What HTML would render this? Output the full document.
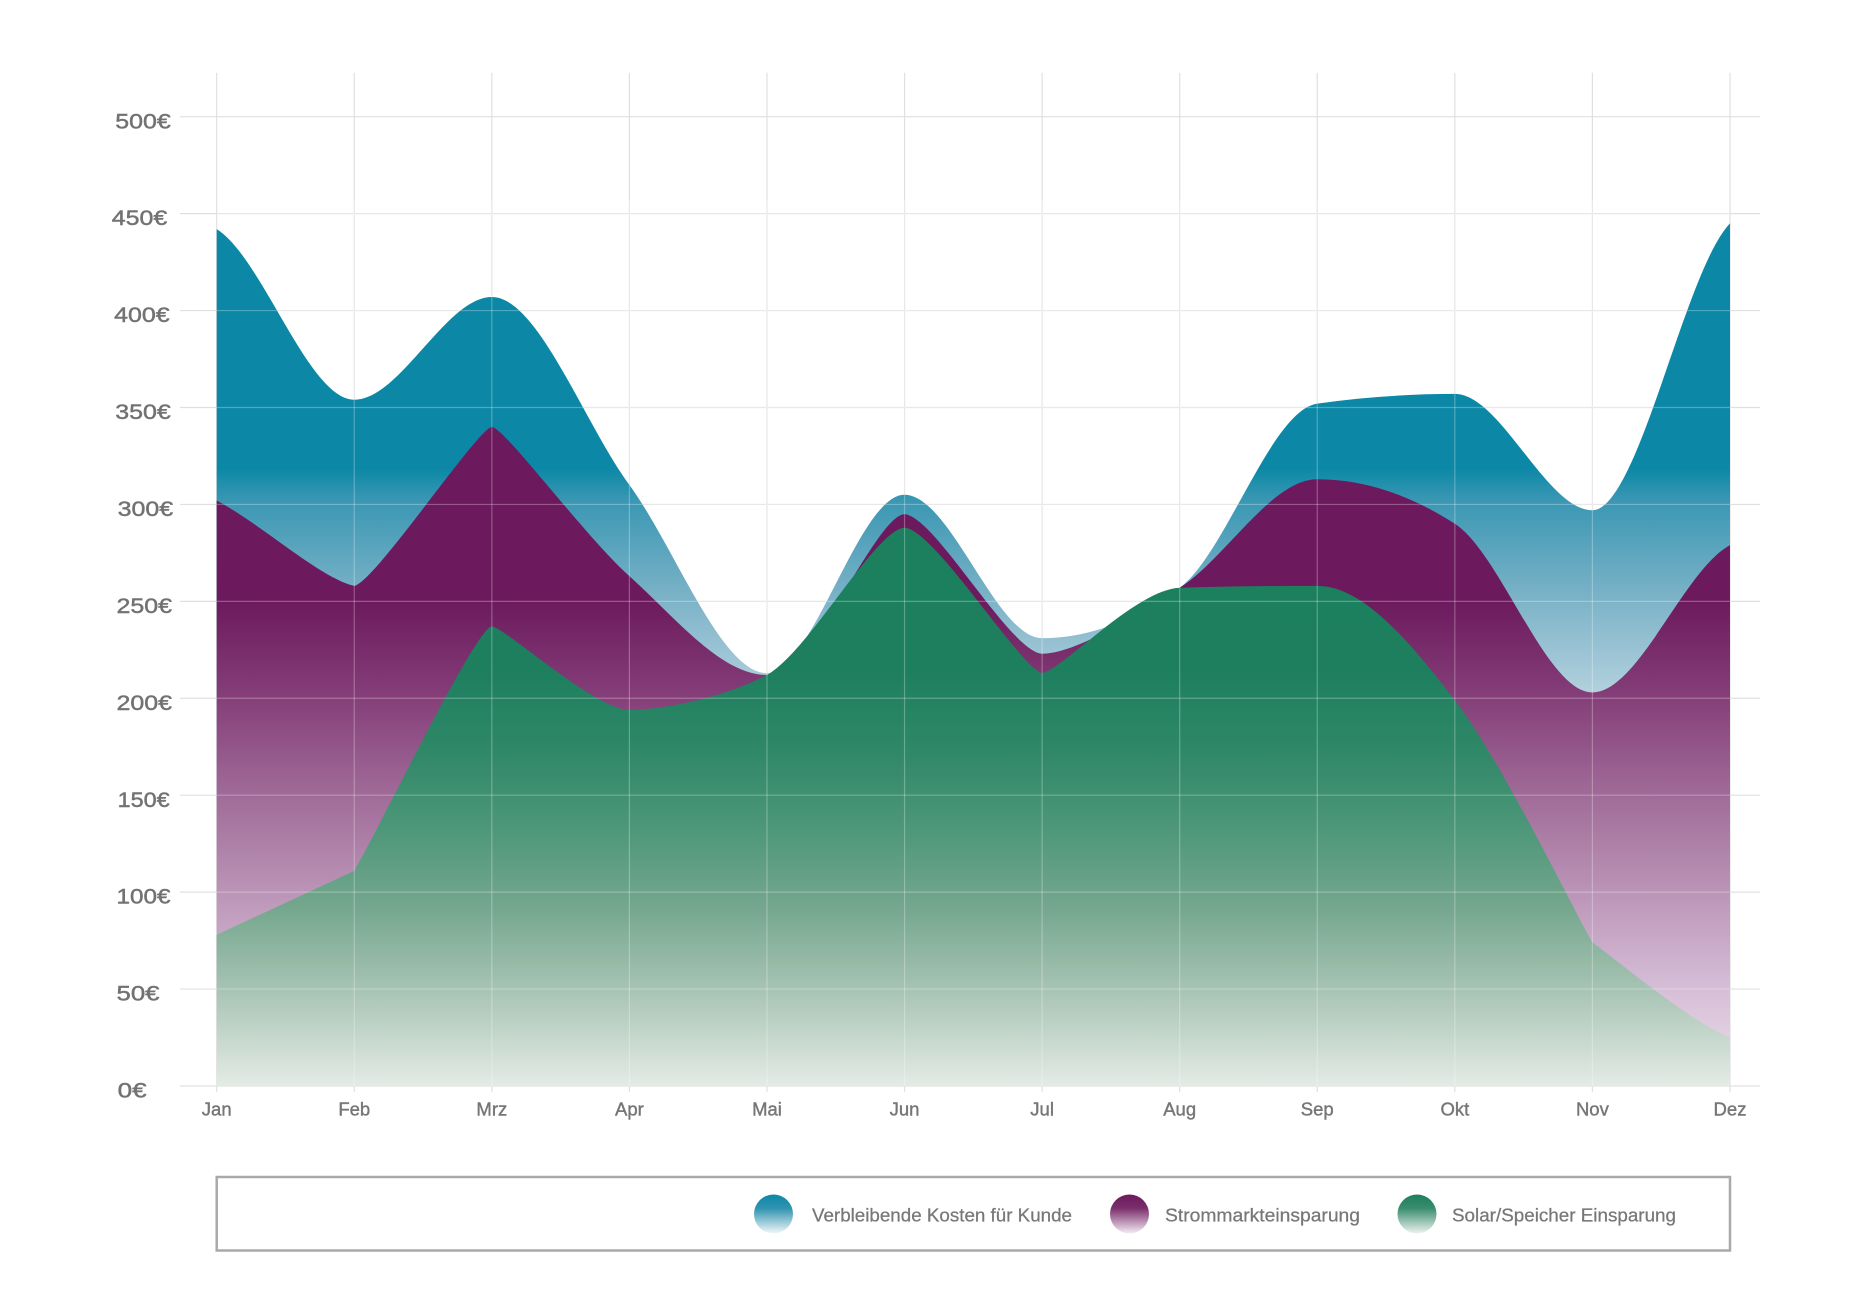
<!DOCTYPE html>
<html>
<head>
<meta charset="utf-8">
<style>
  html, body { margin: 0; padding: 0; background: #ffffff; }
  body { width: 1864px; height: 1301px; overflow: hidden; }
  svg { display: block; }
  .yl { font-family: "Liberation Sans", Arial, sans-serif; font-size: 21px; fill: #727272; stroke: #727272; stroke-width: 0.45; }
  .xl { font-family: "Liberation Sans", Arial, sans-serif; font-size: 18.5px; fill: #767676; stroke: #767676; stroke-width: 0.4; }
  .lg { font-family: "Liberation Sans", Arial, sans-serif; font-size: 18.7px; fill: #777777; stroke: #777777; stroke-width: 0.25; }
</style>
</head>
<body>
<svg width="1864" height="1301" viewBox="0 0 1864 1301" xmlns="http://www.w3.org/2000/svg">
  <defs>
    <linearGradient id="gBlue" gradientUnits="userSpaceOnUse" x1="0" y1="223" x2="0" y2="1086">
      <stop offset="0" stop-color="#0c88a6"/>
      <stop offset="0.285" stop-color="#0c88a6"/>
      <stop offset="0.321" stop-color="#3a97b3"/>
      <stop offset="0.437" stop-color="#7db3c8"/>
      <stop offset="0.553" stop-color="#b6d3df"/>
      <stop offset="1" stop-color="#f4f8fa"/>
    </linearGradient>
    <linearGradient id="gPurple" gradientUnits="userSpaceOnUse" x1="0" y1="426" x2="0" y2="1086">
      <stop offset="0" stop-color="#6c1a5d"/>
      <stop offset="0.265" stop-color="#6c1a5d"/>
      <stop offset="0.412" stop-color="#853f79"/>
      <stop offset="0.559" stop-color="#a06b98"/>
      <stop offset="0.706" stop-color="#bb94b7"/>
      <stop offset="0.853" stop-color="#d6bed7"/>
      <stop offset="1" stop-color="#ece0ec"/>
    </linearGradient>
    <linearGradient id="gGreen" gradientUnits="userSpaceOnUse" x1="0" y1="527" x2="0" y2="1086">
      <stop offset="0" stop-color="#1c7f5d"/>
      <stop offset="0.256" stop-color="#1d7f5e"/>
      <stop offset="0.402" stop-color="#2f8868"/>
      <stop offset="0.542" stop-color="#4e977a"/>
      <stop offset="0.682" stop-color="#75a78e"/>
      <stop offset="0.821" stop-color="#a5c2b2"/>
      <stop offset="1" stop-color="#e4ebe6"/>
    </linearGradient>
    <linearGradient id="cBlue" x1="0" y1="0" x2="0" y2="1">
      <stop offset="0" stop-color="#0c88a6"/>
      <stop offset="0.35" stop-color="#2f93b0"/>
      <stop offset="1" stop-color="#f2f7f9"/>
    </linearGradient>
    <linearGradient id="cPurple" x1="0" y1="0" x2="0" y2="1">
      <stop offset="0" stop-color="#6c1a5d"/>
      <stop offset="0.35" stop-color="#7a2e6c"/>
      <stop offset="1" stop-color="#f4ecf4"/>
    </linearGradient>
    <linearGradient id="cGreen" x1="0" y1="0" x2="0" y2="1">
      <stop offset="0" stop-color="#1d7f5e"/>
      <stop offset="0.35" stop-color="#3a8d6e"/>
      <stop offset="1" stop-color="#eef3ef"/>
    </linearGradient>
  </defs>

  <rect x="0" y="0" width="1864" height="1301" fill="#ffffff"/>

  <!-- gridlines under -->
  <g stroke="#e0e0e0" stroke-width="1.2" fill="none">
    <line x1="180" y1="1086" x2="1760" y2="1086"/>
    <line x1="180" y1="989.07" x2="1760" y2="989.07"/>
    <line x1="180" y1="892.14" x2="1760" y2="892.14"/>
    <line x1="180" y1="795.21" x2="1760" y2="795.21"/>
    <line x1="180" y1="698.28" x2="1760" y2="698.28"/>
    <line x1="180" y1="601.35" x2="1760" y2="601.35"/>
    <line x1="180" y1="504.42" x2="1760" y2="504.42"/>
    <line x1="180" y1="407.49" x2="1760" y2="407.49"/>
    <line x1="180" y1="310.56" x2="1760" y2="310.56"/>
    <line x1="180" y1="213.63" x2="1760" y2="213.63"/>
    <line x1="180" y1="116.7" x2="1760" y2="116.7"/>
    <line x1="216.7" y1="72.7" x2="216.7" y2="1092"/>
    <line x1="354.27" y1="72.7" x2="354.27" y2="1092"/>
    <line x1="491.84" y1="72.7" x2="491.84" y2="1092"/>
    <line x1="629.41" y1="72.7" x2="629.41" y2="1092"/>
    <line x1="766.98" y1="72.7" x2="766.98" y2="1092"/>
    <line x1="904.55" y1="72.7" x2="904.55" y2="1092"/>
    <line x1="1042.12" y1="72.7" x2="1042.12" y2="1092"/>
    <line x1="1179.69" y1="72.7" x2="1179.69" y2="1092"/>
    <line x1="1317.26" y1="72.7" x2="1317.26" y2="1092"/>
    <line x1="1454.83" y1="72.7" x2="1454.83" y2="1092"/>
    <line x1="1592.4" y1="72.7" x2="1592.4" y2="1092"/>
    <line x1="1730" y1="72.7" x2="1730" y2="1092"/>
  </g>

  <!-- Blue: Verbleibende Kosten (total) -->
  <path fill="url(#gBlue)" d="M216.7,229.14 C262.56,257.58 308.41,399.74 354.27,399.74
    C400.13,399.74 445.98,296.99 491.84,296.99
    C537.70,296.99 583.55,422.36 629.41,485.03
    C675.27,547.71 721.12,673.08 766.98,673.08
    C812.84,673.08 858.69,494.73 904.55,494.73
    C950.41,494.73 996.26,638.18 1042.12,638.18
    C1087.98,638.18 1133.83,621.37 1179.69,587.78
    C1225.55,554.18 1271.40,410.07 1317.26,403.61
    C1363.12,397.15 1408.97,393.92 1454.83,393.92
    C1500.69,393.92 1546.54,510.24 1592.40,510.24
    C1638.26,510.24 1684.11,271.15 1730,223.32
    L1730,1086 L216.7,1086 Z"/>

  <!-- Purple: Strommarkteinsparung -->
  <path fill="url(#gPurple)" d="M216.7,500.54 C262.56,525 320,578 354.27,585.84
    C375,582 478,428 491.84,426.88
    C505,428 583.55,534.79 629.41,576.15
    C675.27,617.50 721.12,675.02 766.98,675.02
    C812.84,675.02 875,516 904.55,514.11
    C935,516 1010,652 1042.12,653.69
    C1075,653.69 1133.83,616.86 1179.69,587.78
    C1225.55,558.70 1271.40,479.22 1317.26,479.22
    C1363.12,479.22 1408.97,494.09 1454.83,523.81
    C1500.69,553.52 1546.54,692.46 1592.40,692.46
    C1638.26,692.46 1684.11,569.69 1730,545.13
    L1730,1086 L216.7,1086 Z"/>

  <!-- Green: Solar/Speicher Einsparung -->
  <path fill="url(#gGreen)" d="M216.7,934.79 L354.27,870.82
    C390,807.4 476,628 491.84,626.55
    C506,628 595,709.91 629.41,709.91
    C665,709.91 725,697 766.98,675.02
    C810,650 875,530 904.55,527.68
    C935,530 1020,668 1042.12,673.08
    C1065,668 1135,590 1179.69,587.78
    C1225.55,586.48 1271.40,585.84 1317.26,585.84
    C1363.12,585.84 1408.97,640.76 1454.83,700.22
    C1500.69,759.67 1570,903 1592.40,942.54
    C1615,958.4 1690,1022 1730,1037.53
    L1730,1086 L216.7,1086 Z"/>

  <!-- gridlines over areas (translucent) -->
  <g stroke="#ffffff" stroke-opacity="0.28" stroke-width="1.2" fill="none">
    <line x1="216.7" y1="989.07" x2="1730" y2="989.07"/>
    <line x1="216.7" y1="892.14" x2="1730" y2="892.14"/>
    <line x1="216.7" y1="795.21" x2="1730" y2="795.21"/>
    <line x1="216.7" y1="698.28" x2="1730" y2="698.28"/>
    <line x1="216.7" y1="601.35" x2="1730" y2="601.35"/>
    <line x1="216.7" y1="504.42" x2="1730" y2="504.42"/>
    <line x1="216.7" y1="407.49" x2="1730" y2="407.49"/>
    <line x1="216.7" y1="310.56" x2="1730" y2="310.56"/>
    <line x1="216.7" y1="213.63" x2="1730" y2="213.63"/>
    <line x1="354.27" y1="200" x2="354.27" y2="1086"/>
    <line x1="491.84" y1="200" x2="491.84" y2="1086"/>
    <line x1="629.41" y1="200" x2="629.41" y2="1086"/>
    <line x1="766.98" y1="200" x2="766.98" y2="1086"/>
    <line x1="904.55" y1="200" x2="904.55" y2="1086"/>
    <line x1="1042.12" y1="200" x2="1042.12" y2="1086"/>
    <line x1="1179.69" y1="200" x2="1179.69" y2="1086"/>
    <line x1="1317.26" y1="200" x2="1317.26" y2="1086"/>
    <line x1="1454.83" y1="200" x2="1454.83" y2="1086"/>
    <line x1="1592.4" y1="200" x2="1592.4" y2="1086"/>
  </g>

  <!-- Y axis labels -->
  <g class="yl">
    <text x="115.3" y="128.3" textLength="55.5" lengthAdjust="spacingAndGlyphs">500€</text>
    <text x="111.8" y="225.2" textLength="55.5" lengthAdjust="spacingAndGlyphs">450€</text>
    <text x="114.1" y="322.2" textLength="55.5" lengthAdjust="spacingAndGlyphs">400€</text>
    <text x="115.3" y="419.1" textLength="55.5" lengthAdjust="spacingAndGlyphs">350€</text>
    <text x="117.7" y="516" textLength="55.5" lengthAdjust="spacingAndGlyphs">300€</text>
    <text x="116.5" y="613" textLength="55.5" lengthAdjust="spacingAndGlyphs">250€</text>
    <text x="116.5" y="709.9" textLength="55.5" lengthAdjust="spacingAndGlyphs">200€</text>
    <text x="117.7" y="806.8" textLength="52" lengthAdjust="spacingAndGlyphs">150€</text>
    <text x="116.5" y="903.7" textLength="54" lengthAdjust="spacingAndGlyphs">100€</text>
    <text x="116.5" y="1000.7" textLength="43" lengthAdjust="spacingAndGlyphs">50€</text>
    <text x="117.7" y="1097.6" textLength="29" lengthAdjust="spacingAndGlyphs">0€</text>
  </g>

  <!-- X axis labels -->
  <g class="xl" text-anchor="middle">
    <text x="216.7" y="1115.7">Jan</text>
    <text x="354.27" y="1115.7">Feb</text>
    <text x="491.84" y="1115.7">Mrz</text>
    <text x="629.41" y="1115.7">Apr</text>
    <text x="766.98" y="1115.7">Mai</text>
    <text x="904.55" y="1115.7">Jun</text>
    <text x="1042.12" y="1115.7">Jul</text>
    <text x="1179.69" y="1115.7">Aug</text>
    <text x="1317.26" y="1115.7">Sep</text>
    <text x="1454.83" y="1115.7">Okt</text>
    <text x="1592.4" y="1115.7">Nov</text>
    <text x="1730" y="1115.7">Dez</text>
  </g>

  <!-- Legend -->
  <rect x="216.7" y="1177" width="1513.3" height="73.5" fill="#ffffff" stroke="#a9a9a9" stroke-width="2.5"/>
  <circle cx="773.5" cy="1214" r="19.5" fill="url(#cBlue)"/>
  <text class="lg" x="812" y="1221.5" textLength="260" lengthAdjust="spacingAndGlyphs">Verbleibende Kosten für Kunde</text>
  <circle cx="1129.5" cy="1214" r="19.5" fill="url(#cPurple)"/>
  <text class="lg" x="1165" y="1221.5" textLength="195" lengthAdjust="spacingAndGlyphs">Strommarkteinsparung</text>
  <circle cx="1417" cy="1214" r="19.5" fill="url(#cGreen)"/>
  <text class="lg" x="1452" y="1221.5" textLength="224" lengthAdjust="spacingAndGlyphs">Solar/Speicher Einsparung</text>
</svg>
</body>
</html>
